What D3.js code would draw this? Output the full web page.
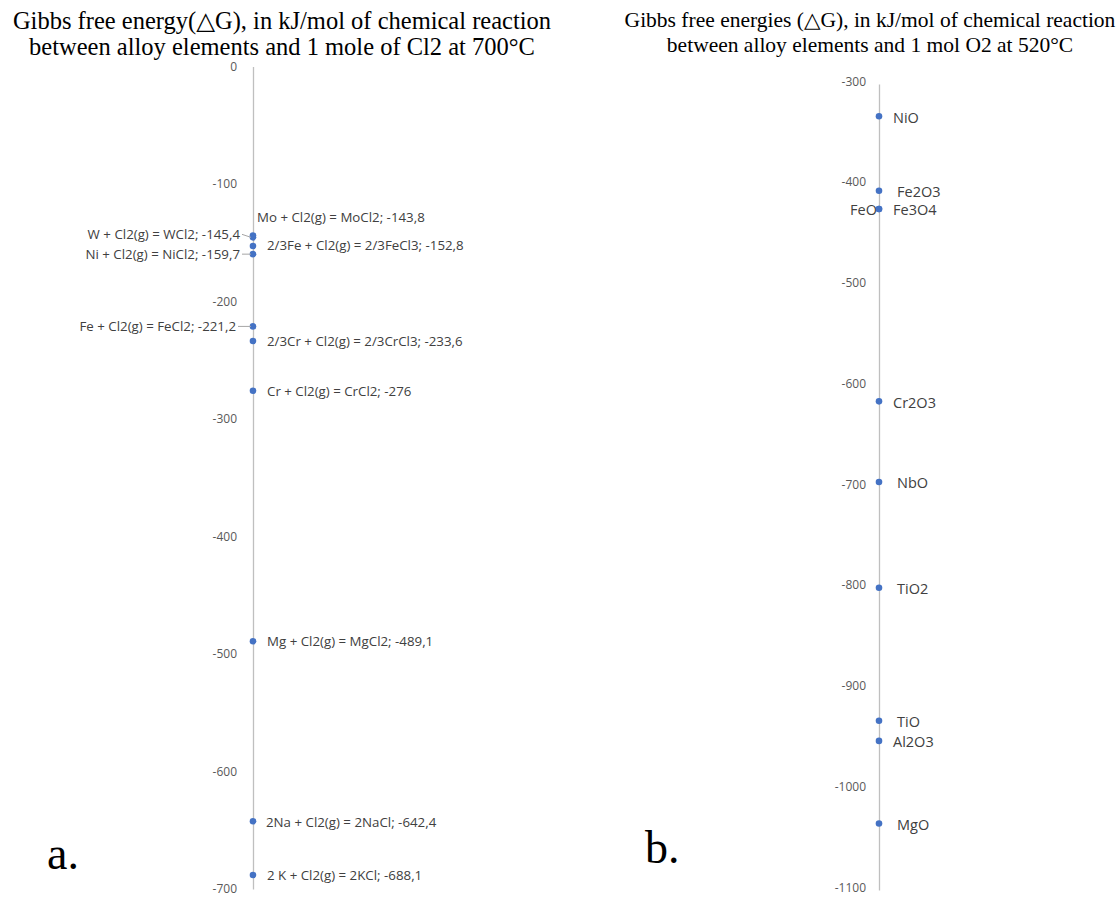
<!DOCTYPE html>
<html>
<head>
<meta charset="utf-8">
<script src="https://cdn.jsdelivr.net/npm/d3@7"></script>
<style>
  body { margin: 0; background: #fff; }
  svg text { font-family: "Open Sans", "Noto Sans", sans-serif; }
</style>
</head>
<body>
<svg id="chart" width="1120" height="902"></svg>
<script>
// chlorides at 700°C (kJ per mole Cl2)
const chlorideNames = ["Mo + Cl2(g) = MoCl2", "W + Cl2(g) = WCl2", "2/3Fe + Cl2(g) = 2/3FeCl3",
  "Ni + Cl2(g) = NiCl2", "Fe + Cl2(g) = FeCl2", "2/3Cr + Cl2(g) = 2/3CrCl3",
  "Cr + Cl2(g) = CrCl2", "Mg + Cl2(g) = MgCl2", "2Na + Cl2(g) = 2NaCl", "2 K + Cl2(g) = 2KCl"];
const chlorideValues = [-143.8, -145.4, -152.8, -159.7, -221.2, -233.6, -276, -489.1, -642.4, -688.1];
const chlorideTicks = [0, -100, -200, -300, -400, -500, -600, -700];

// oxides at 520°C (kJ per mol O2)
const oxideNames = ["NiO", "Fe2O3", "FeO", "Fe3O4", "Cr2O3", "NbO", "TiO2", "TiO", "Al2O3", "MgO"];
const oxideValues = [-332, -406, -424, -424, -615, -695, -800, -932, -952, -1034];
const oxideTicks = [-300, -400, -500, -600, -700, -800, -900, -1000, -1100];

// label placement: side, dx from point, dy from point, leader line
const chlorideLayout = [
  { side: "right", dx: 4, dy: -18 },
  { side: "left", dx: -13, dy: -3, leader: true },
  { side: "right", dx: 14, dy: -1 },
  { side: "left", dx: -13, dy: 0, leader: true },
  { side: "left", dx: -17, dy: 0, leader: true },
  { side: "right", dx: 14, dy: 0 },
  { side: "right", dx: 14, dy: 0 },
  { side: "right", dx: 14, dy: 0 },
  { side: "right", dx: 13, dy: 1 },
  { side: "right", dx: 14, dy: 0 }
];
const oxideLayout = [
  { side: "right", dx: 14, dy: 1 },
  { side: "right", dx: 18, dy: 1 },
  { side: "left", dx: -2, dy: 1 },
  { side: "right", dx: 14, dy: 1 },
  { side: "right", dx: 14, dy: 1 },
  { side: "right", dx: 18, dy: 1 },
  { side: "right", dx: 18, dy: 1 },
  { side: "right", dx: 18, dy: 1 },
  { side: "right", dx: 14, dy: 1 },
  { side: "right", dx: 18, dy: 1 }
];

const svg = d3.select("#chart");
const dotColor = "#4472C4";
const axisColor = "#bfbfbf";
const labelColor = "#404040";
const tickColor = "#595959";

function drawPanel(opts) {
  const y = d3.scaleLinear().domain(opts.domain).range(opts.range);
  const g = svg.append("g");

  // vertical axis with labels only
  const axis = d3.axisLeft(y).tickValues(opts.ticks).tickSize(0).tickPadding(opts.tickPad)
    .tickFormat(d => String(d));
  const ag = g.append("g").attr("transform", `translate(${opts.x},0)`).call(axis);
  ag.select(".domain").attr("stroke", axisColor).attr("stroke-width", 1.3);
  ag.selectAll(".tick text")
    .attr("fill", tickColor)
    .style("font-size", "12px")
    .attr("dy", opts.tickDy);

  opts.values.forEach((v, i) => {
    const lay = opts.layout[i];
    const cy = y(v);
    g.append("circle")
      .attr("cx", opts.x)
      .attr("cy", cy)
      .attr("r", 3.3)
      .attr("fill", dotColor);

    const text = opts.format(opts.names[i], v);
    g.append("text")
      .attr("x", opts.x + lay.dx)
      .attr("y", cy + lay.dy)
      .attr("dominant-baseline", "central")
      .attr("text-anchor", lay.side === "left" ? "end" : "start")
      .attr("fill", labelColor)
      .style("font-size", opts.fontSize)
      .text(text);

    if (lay.leader) {
      g.append("line")
        .attr("x1", opts.x + lay.dx + 2)
        .attr("x2", opts.x - 2)
        .attr("y1", cy + lay.dy)
        .attr("y2", cy)
        .attr("stroke", "#a6a6a6")
        .attr("stroke-width", 1);
    }
  });

  // title
  const t = g.append("text")
    .attr("text-anchor", "middle")
    .attr("fill", "#000")
    .style("font-family", "'Liberation Serif', 'DejaVu Serif', serif")
    .style("font-size", opts.titleSize);
  opts.title.forEach((line, k) => {
    t.append("tspan").attr("x", opts.titleX).attr("y", opts.titleY + k * opts.titleGap).text(line);
  });

  // panel letter
  g.append("text")
    .attr("x", opts.letterX)
    .attr("y", opts.letterY)
    .style("font-family", "'Liberation Serif', 'DejaVu Serif', serif")
    .style("font-size", "46px")
    .attr("fill", "#000")
    .text(opts.letter);
}

drawPanel({
  x: 253,
  domain: [0, -700],
  range: [66.5, 889],
  ticks: chlorideTicks,
  tickPad: 16,
  tickDy: "0.32em",
  values: chlorideValues,
  names: chlorideNames,
  layout: chlorideLayout,
  fontSize: "13.3px",
  format: (n, v) => `${n}; ${String(v).replace(".", ",")}`,
  title: ["Gibbs free energy(\u25B3G), in kJ/mol of chemical reaction",
          "between alloy elements and 1 mole of Cl2 at 700\u00B0C"],
  titleX: 282, titleY: 29, titleGap: 26, titleSize: "24.5px",
  letter: "a.", letterX: 47, letterY: 869
});

drawPanel({
  x: 879,
  domain: [-300, -1100],
  range: [84, 890],
  ticks: oxideTicks,
  tickPad: 13,
  tickDy: "0.1em",
  values: oxideValues,
  names: oxideNames,
  layout: oxideLayout,
  fontSize: "14.5px",
  format: (n) => n,
  title: ["Gibbs free energies (\u25B3G), in kJ/mol of chemical reaction",
          "between alloy elements and 1 mol O2 at 520\u00B0C"],
  titleX: 870, titleY: 27, titleGap: 25, titleSize: "21.5px",
  letter: "b.", letterX: 645, letterY: 863
});
</script>
</body>
</html>
